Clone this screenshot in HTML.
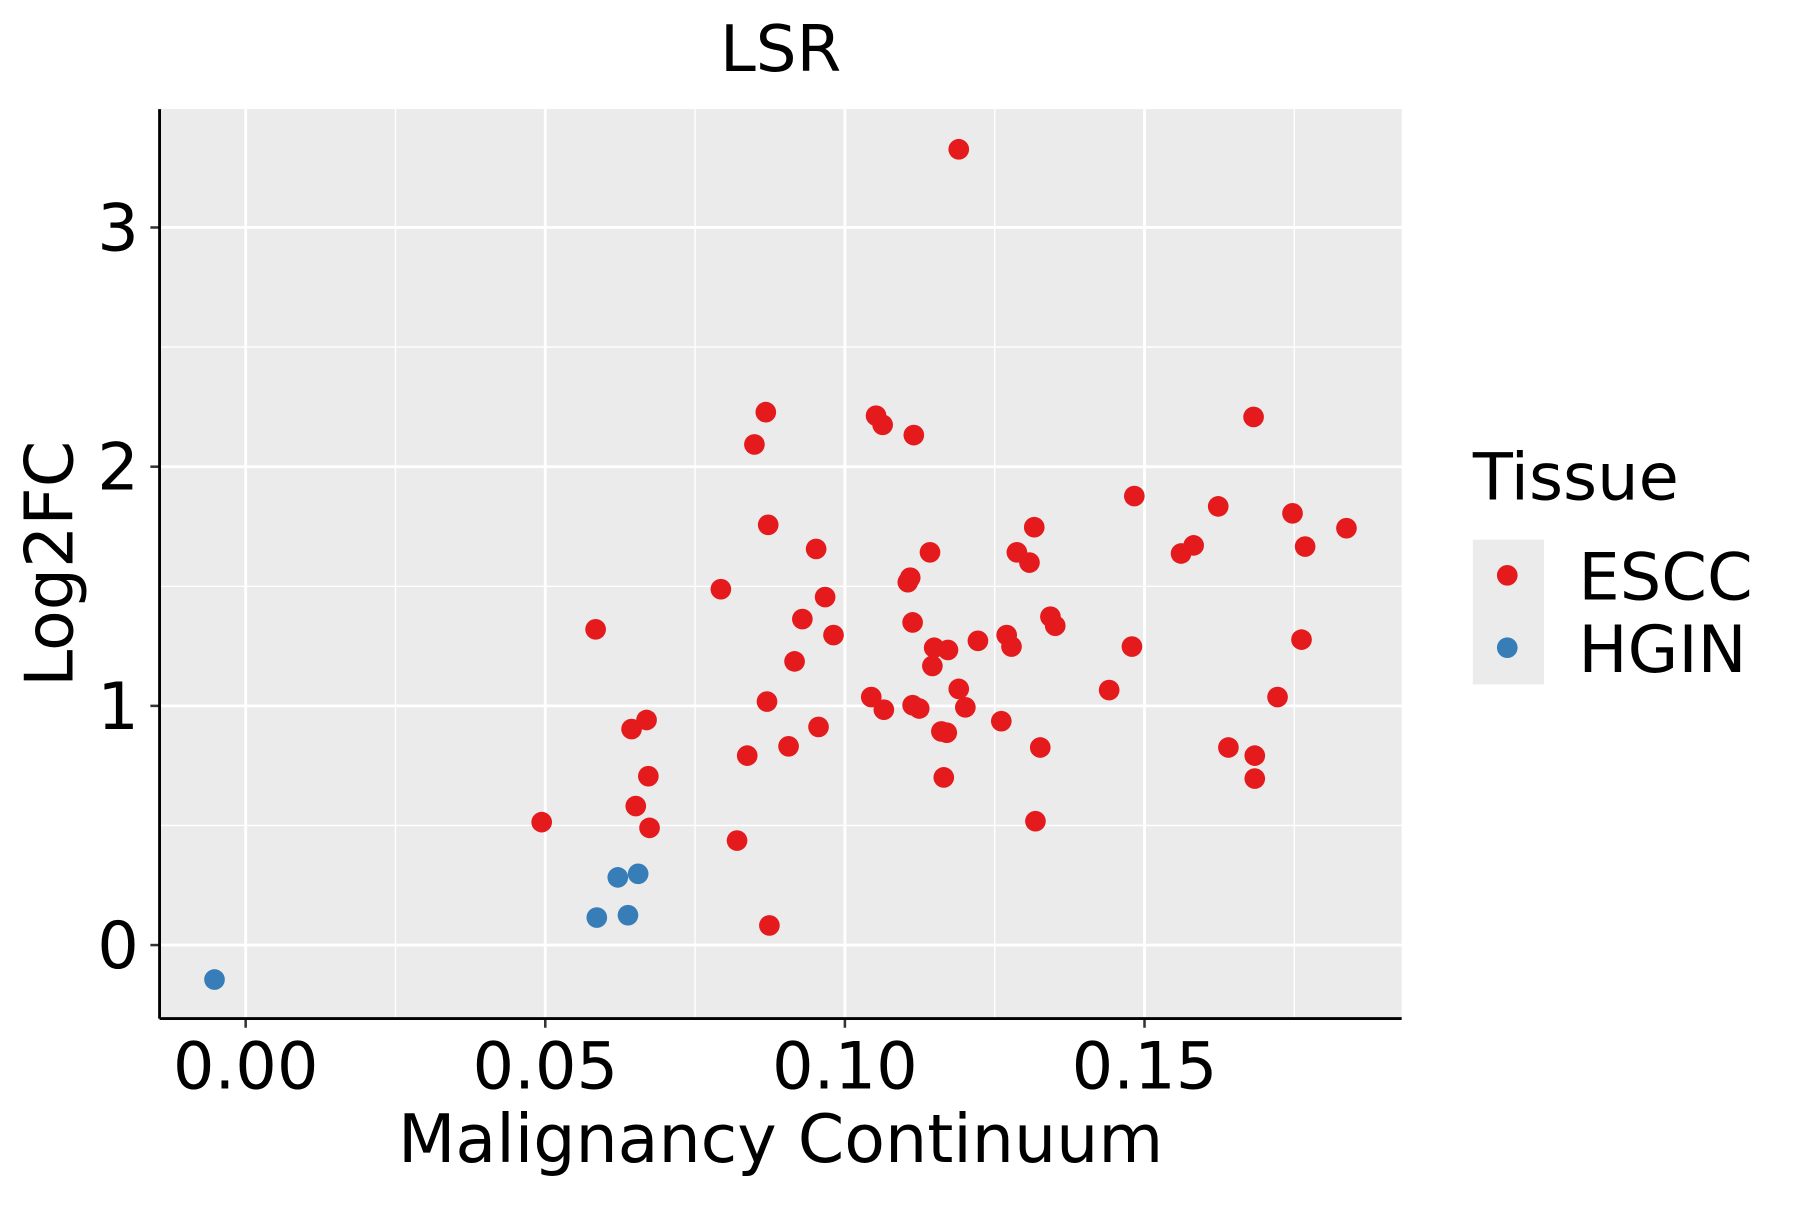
<!DOCTYPE html>
<html><head><meta charset="utf-8"><style>
html,body{margin:0;padding:0;background:#fff;}
svg text{font-family:"DejaVu Sans","Liberation Sans",sans-serif;}
</style></head><body>
<svg id="chart" width="1800" height="1200" viewBox="0 0 1568 1045" preserveAspectRatio="none" xmlns="http://www.w3.org/2000/svg">
<rect x="0" y="0" width="1568" height="1045" fill="#fff"/>
<g id="panel"></g>
<text x="680" y="62" font-size="56" text-anchor="middle">LSR</text>
<text x="680" y="1012" font-size="58" text-anchor="middle">Malignancy Continuum</text>
<text transform="translate(63,491) rotate(-90)" font-size="58" text-anchor="middle">Log2FC</text>
<g>
<text x="1283" y="435" font-size="57">Tissue</text>
<rect x="1283" y="470" width="62" height="126" fill="#ebebeb"/>
<circle cx="1313" cy="501" r="9" fill="#e41a1c"/>
<circle cx="1313" cy="564" r="9" fill="#377eb8"/>
<text x="1375" y="522" font-size="57">ESCC</text>
<text x="1375" y="585" font-size="57">HGIN</text>
</g>
</svg>
<script>
const xTicks=[0,0.05,0.10,0.15];
const xTickLabels=["0.00","0.05","0.10","0.15"];
const yTicks=[0,1,2,3];
const yTickLabels=["0","1","2","3"];
const esccX=[0.1190,0.0868,0.0849,0.1052,0.1063,0.1115,0.1682,0.0872,0.0952,0.0793,0.0967,0.0584,0.0929,0.0981,0.0916,0.1483,0.1623,0.1582,0.1561,0.1747,0.1768,0.1837,0.1316,0.1287,0.1308,0.1142,0.1109,0.1105,0.1113,0.1149,0.1172,0.1146,0.1222,0.1270,0.1278,0.1343,0.1351,0.1479,0.1762,0.1190,0.1044,0.1065,0.1113,0.1124,0.1201,0.1261,0.1441,0.1722,0.0870,0.0644,0.0669,0.0672,0.0956,0.0906,0.0837,0.1161,0.1170,0.1326,0.1640,0.1684,0.1165,0.1684,0.0651,0.0674,0.0494,0.0820,0.1318,0.0874];
const esccY=[3.327,2.228,2.093,2.213,2.175,2.132,2.208,1.757,1.656,1.488,1.455,1.320,1.363,1.296,1.186,1.877,1.834,1.671,1.637,1.805,1.666,1.743,1.747,1.642,1.599,1.642,1.536,1.517,1.349,1.243,1.234,1.167,1.272,1.296,1.248,1.373,1.335,1.248,1.277,1.071,1.037,0.984,1.003,0.989,0.994,0.936,1.066,1.037,1.018,0.903,0.941,0.706,0.912,0.831,0.792,0.893,0.888,0.826,0.826,0.792,0.701,0.696,0.581,0.490,0.514,0.437,0.518,0.082];
const hginX=[-0.0052,0.0621,0.0655,0.0586,0.0638];
const hginY=[-0.144,0.283,0.298,0.115,0.125];

const NS="http://www.w3.org/2000/svg";
const P={l:139,r:1221,t:95,b:887};
const sx=v=>214+v*5220;
const sy=v=>823-v*208.3;
const g=document.getElementById('panel');
function mk(tag,attrs){const e=document.createElementNS(NS,tag);for(const k in attrs)e.setAttribute(k,attrs[k]);g.appendChild(e);return e;}
const bg=mk('rect',{x:P.l,y:P.t,width:P.r-P.l,height:P.b-P.t,fill:'#ebebeb'});


for(let i=0;i<xTicks.length;i++){const v=xTicks[i]+0.025;if(sx(v)<P.r){const l=mk('line',{x1:sx(v),x2:sx(v),y1:P.t,y2:P.b,stroke:'#fff','stroke-width':1.2});

}}
for(let i=0;i<yTicks.length;i++){const v=yTicks[i]+0.5;if(sy(v)>P.t){const l=mk('line',{x1:P.l,x2:P.r,y1:sy(v),y2:sy(v),stroke:'#fff','stroke-width':1.2});

}}
xTicks.forEach((v,i)=>{const l=mk('line',{x1:sx(v),x2:sx(v),y1:P.t,y2:P.b,stroke:'#fff','stroke-width':2.5});


const t=mk('line',{x1:sx(v),x2:sx(v),y1:P.b,y2:P.b+8,stroke:'#333','stroke-width':2.2});


const tx=mk('text',{x:sx(v),y:948,'font-size':57,'text-anchor':'middle',fill:'#000'});tx.textContent=xTickLabels[i];

});
yTicks.forEach((v,i)=>{const l=mk('line',{x1:P.l,x2:P.r,y1:sy(v),y2:sy(v),stroke:'#fff','stroke-width':2.5});


const t=mk('line',{x1:P.l-8,x2:P.l,y1:sy(v),y2:sy(v),stroke:'#333','stroke-width':2.2});


const tx=mk('text',{x:P.l-18,y:sy(v)+20,'font-size':57,'text-anchor':'end',fill:'#000'});tx.textContent=yTickLabels[i];

});
const ax=mk('line',{x1:P.l,x2:P.r,y1:P.b,y2:P.b,stroke:'#000','stroke-width':2.5});


const ay=mk('line',{x1:P.l,x2:P.l,y1:P.t,y2:P.b,stroke:'#000','stroke-width':2.5});


esccX.forEach((v,i)=>{const c=mk('circle',{cx:sx(v),cy:sy(esccY[i]),r:9,fill:'#e41a1c'});

});
hginX.forEach((v,i)=>{const c=mk('circle',{cx:sx(v),cy:sy(hginY[i]),r:9,fill:'#377eb8'});

});
</script>
</body></html>
